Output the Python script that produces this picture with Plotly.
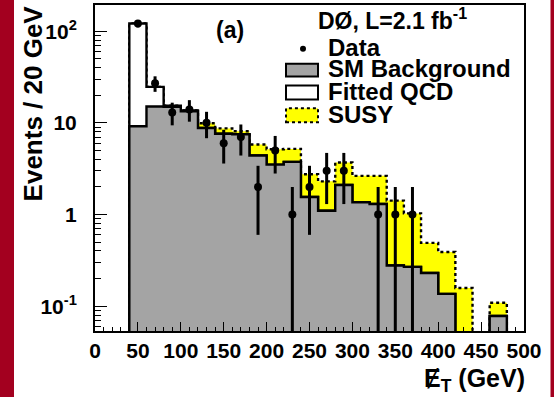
import plotly.graph_objects as go

# ---------------- data ----------------
bin_lo = [40, 60, 80, 100, 120, 140, 160, 180, 200, 220, 240,
          260, 280, 300, 320, 340, 360, 380, 400, 420, 440, 460]
bin_width = 20
sm_background = [9.2, 15.1, 15.0, 13.4, 8.8, 7.6, 7.5, 4.4, 3.5, 3.75, 1.55,
                 1.1, 2.1, 1.36, 1.3, 0.278, 0.268, 0.23, 0.136, 0, 0, 0.078]
fitted_qcd = [112, 9.6, 0.4, 0.3, 0, 0, 0, 0, 0, 0, 0,
              0, 0, 0, 0, 0, 0, 0, 0, 0, 0, 0]
susy = [0, 0, 0, 0, 1.1, 1.1, 0.6, 1.4, 1.65, 1.45, 1.2,
        1.2, 1.6, 1.28, 1.34, 1.14, 0.76, 0.26, 0.254, 0.158, 0, 0.031]
data_et = [50, 70, 90, 110, 130, 150, 170, 190, 210, 230, 250,
           270, 290, 310, 330, 350, 370, 390, 410, 430, 450, 470]
data_n = [121, 27, 13, 14, 10, 6, 7, 2, 5, 1, 2,
          3, 3, 0, 1, 1, 1, 0, 0, 0, 0, 0]
data_err = [11.0, 5.2, 3.6, 3.7, 3.2, 2.4, 2.6, 1.4, 2.2, 1.0, 1.4,
            1.7, 1.7, 0, 1.0, 1.0, 1.0, 0, 0, 0, 0, 0]

x_ticks = [0, 50, 100, 150, 200, 250, 300, 350, 400, 450, 500]
y_ticks = [0.1, 1, 10, 100]
y_ticktext = ["10<sup>-1</sup>", "1", "10", "10<sup>2</sup>"]

# ---------------- layout geometry ----------------
W, H = 554, 397
ML, MR, MT, MB = 95, 30, 3, 66
PW, PH = W - ML - MR, H - MT - MB


def px(x):
    return (x - ML) / PW


def py(y):
    return (H - MB - y) / PH


FLOOR = 1e-3
qcd_total = [s + q for s, q in zip(sm_background, fitted_qcd)]
susy_total = [t + s for t, s in zip(qcd_total, susy)]


def steps(vals):
    xs, ys = [bin_lo[0]], [FLOOR]
    for lo, v in zip(bin_lo, vals):
        v = v if v > 0 else FLOOR
        xs += [lo, lo + bin_width]
        ys += [v, v]
    xs.append(bin_lo[-1] + bin_width)
    ys.append(FLOOR)
    return xs, ys


fig = go.Figure()

sx, sy = steps(susy_total)
fig.add_trace(go.Scatter(x=sx, y=sy, mode="lines", fill="toself",
                         fillcolor="#ffff00",
                         line=dict(color="black", width=2.4, dash="dot"),
                         hoverinfo="skip"))
qx, qy = steps(qcd_total)
fig.add_trace(go.Scatter(x=qx, y=qy, mode="lines", fill="toself",
                         fillcolor="white",
                         line=dict(color="black", width=2.4),
                         hoverinfo="skip"))
bx, by = steps(sm_background)
fig.add_trace(go.Scatter(x=bx, y=by, mode="lines", fill="toself",
                         fillcolor="#a4a4a4",
                         line=dict(color="black", width=2.4),
                         hoverinfo="skip"))

dx = [x for x, n in zip(data_et, data_n) if n > 0]
dy = [n for n in data_n if n > 0]
de = [e for e, n in zip(data_err, data_n) if n > 0]
fig.add_trace(go.Scatter(x=dx, y=dy, mode="markers",
                         marker=dict(color="black", size=8),
                         error_y=dict(type="data", array=de, arrayminus=de,
                                      color="black", thickness=3, width=0),
                         cliponaxis=True))

minor_y = [k * 10 ** e for e in range(-2, 3) for k in range(2, 10)]

tick_font = dict(family="Liberation Sans, Arial, sans-serif", size=21, color="black")

fig.update_xaxes(range=[0, 500], showline=True, mirror=True, linecolor="black",
                 linewidth=2, ticks="inside", ticklen=9, tickwidth=1.4,
                 tickcolor="black", tickmode="array", tickvals=x_ticks,
                 ticktext=[f"<b>{v}</b>" for v in x_ticks], tickfont=tick_font,
                 showgrid=False, zeroline=False, ticklabelstandoff=0,
                 minor=dict(ticks="inside", dtick=10, tick0=0, ticklen=4.5,
                            tickwidth=1.2, tickcolor="black", showgrid=False))
fig.update_yaxes(type="log", range=[-1.271, 2.286], showline=True, mirror=True,
                 linecolor="black", linewidth=2, ticks="inside", ticklen=12,
                 tickwidth=1.4, tickcolor="black", tickmode="array",
                 tickvals=y_ticks, ticktext=[f"<b>{t}</b>" for t in y_ticktext],
                 tickfont=tick_font, showgrid=False, zeroline=False,
                 ticklabelstandoff=12,
                 minor=dict(tickmode="array", tickvals=minor_y, ticks="inside",
                            ticklen=6, tickwidth=1.2, tickcolor="black",
                            showgrid=False))

font_b = "Liberation Sans, Arial, sans-serif"


def note(text, x, y, size, xanchor="center", angle=0):
    return dict(text=text, x=px(x), y=py(y), xref="paper", yref="paper",
                xanchor=xanchor, yanchor="middle", showarrow=False,
                textangle=angle, font=dict(family=font_b, size=size, color="black"))


ann = [
    note("<b>Events / 20 GeV</b>", 33, 102, 26, angle=-90),
    note("<b>Ɇ<sub>T</sub> (GeV)</b>", 527, 380, 25, xanchor="right"),
    note("<b>(a)</b>", 230, 28, 23),
    note("<b>DØ, L=2.1 fb<sup>-1</sup></b>", 392, 17, 23),
]
legend_items = [("Data", 46), ("SM Background", 67), ("Fitted QCD", 90), ("SUSY", 113)]
for label, yc in legend_items:
    ann.append(note(f"<b>{label}</b>", 326, yc, 24, xanchor="left"))

shapes = []
# red page borders
shapes.append(dict(type="rect", xref="paper", yref="paper", x0=px(-2), x1=px(14),
                   y0=py(400), y1=py(-3), fillcolor="#a3001f", line=dict(width=0)))
shapes.append(dict(type="rect", xref="paper", yref="paper", x0=px(550.5), x1=px(556),
                   y0=py(400), y1=py(-3), fillcolor="#a3001f", line=dict(width=0)))
# legend symbols
shapes.append(dict(type="circle", xref="paper", yref="paper", x0=px(300), x1=px(306),
                   y0=py(50), y1=py(44), fillcolor="black", line=dict(width=0)))
shapes.append(dict(type="rect", xref="paper", yref="paper", x0=px(286), x1=px(318),
                   y0=py(75), y1=py(62), fillcolor="#a4a4a4",
                   line=dict(color="black", width=2)))
shapes.append(dict(type="rect", xref="paper", yref="paper", x0=px(286), x1=px(318),
                   y0=py(98), y1=py(84), fillcolor="white",
                   line=dict(color="black", width=2)))
shapes.append(dict(type="rect", xref="paper", yref="paper", x0=px(286), x1=px(318),
                   y0=py(121), y1=py(107), fillcolor="#ffff00",
                   line=dict(color="black", width=2, dash="dot")))

fig.update_layout(width=W, height=H, margin=dict(l=ML, r=MR, t=MT, b=MB),
                  paper_bgcolor="white", plot_bgcolor="white", showlegend=False,
                  annotations=ann, shapes=shapes)

fig.write_html("out.html")
